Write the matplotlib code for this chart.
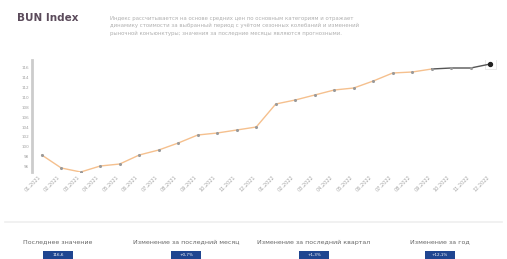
import matplotlib
matplotlib.use("Agg")
import matplotlib.pyplot as plt
from matplotlib.patches import Rectangle
from matplotlib.lines import Line2D

# ---- data ----
months = ["01.2021", "02.2021", "03.2021", "04.2021", "05.2021", "06.2021",
          "07.2021", "08.2021", "09.2021", "10.2021", "11.2021", "12.2021",
          "01.2022", "02.2022", "03.2022", "04.2022", "05.2022", "06.2022",
          "07.2022", "08.2022", "09.2022", "10.2022", "11.2022", "12.2022"]
index_values = [98.4, 95.8, 95.0, 96.2, 96.6, 98.4, 99.4, 100.8, 102.4, 102.8,
                103.4, 104.0, 108.6, 109.4, 110.4, 111.4, 111.8, 113.2, 114.8,
                115.0, 115.6, 115.8, 115.8, 116.6]
n_actual = 21  # first points drawn in orange, rest dark (forecast)
y_ticks = [96, 98, 100, 102, 104, 106, 108, 110, 112, 114, 116]
title = "BUN Index"
description = ("Индекс рассчитывается на основе средних цен по основным категориям и отражает\n"
               "динамику стоимости за выбранный период с учётом сезонных колебаний и изменений\n"
               "рыночной конъюнктуры; значения за последние месяцы являются прогнозными.")
footer_labels = ["Последнее значение", "Изменение за последний месяц",
                 "Изменение за последний квартал", "Изменение за год"]
footer_values = ["116,6", "+0,7%", "+1,3%", "+12,1%"]

fig = plt.figure(figsize=(5.07, 2.59), dpi=100)
fig.patch.set_facecolor("white")

W, H = 507, 259
ax = fig.add_axes([32 / W, 1 - 172 / H, (500 - 32) / W, (172 - 60) / H])
x = list(range(len(months)))
ax.plot(x[:n_actual], index_values[:n_actual], color="#f5c08e", lw=1.0, zorder=2)
ax.plot(x[n_actual - 1:], index_values[n_actual - 1:], color="#555555", lw=1.0, zorder=2)
ax.scatter(x, index_values, s=1.5, color="#9a9a9a", zorder=3)
ax.scatter(x[-1:], index_values[-1:], s=8, color="#222222", zorder=4)
ax.scatter(x[-1:], index_values[-1:], s=60, marker="s", facecolor="none",
           edgecolor="#e6e6e6", linewidth=0.6, zorder=1)

ax.set_xlim(-0.5, len(months) - 0.5)
ax.set_ylim(95, 117.4)
ax.set_yticks(y_ticks)
ax.set_yticklabels([str(v) for v in y_ticks], fontsize=3, color="#a0a0a0")
ax.set_xticks(x)
ax.set_xticklabels(months, rotation=45, ha="right", fontsize=3.6, color="#a5a5a5")
ax.tick_params(axis="both", length=0, pad=2)
for s in ["top", "right", "bottom"]:
    ax.spines[s].set_visible(False)
ax.spines["left"].set_color("#cccccc")
ax.spines["left"].set_linewidth(2)

fig.text(17 / W, 1 - 18 / H, title, fontsize=7.5, fontweight="bold",
         color="#5b4b5b", va="center", ha="left")
fig.text(110 / W, 1 - 26 / H, description, fontsize=3.9, color="#b0b0b0",
         va="center", ha="left", linespacing=1.45)

fig.add_artist(Line2D([5 / W, 502 / W], [1 - 222 / H, 1 - 222 / H],
                      color="#efefef", lw=1.2))

centers = [58, 186, 314, 440]
for cx, lab, val in zip(centers, footer_labels, footer_values):
    fig.text(cx / W, 1 - 242 / H, lab, fontsize=4.5, color="#666666",
             ha="center", va="center")
    fig.add_artist(Rectangle(((cx - 15) / W, 0), 30 / W, 8 / H,
                             facecolor="#1f4590", edgecolor="none",
                             transform=fig.transFigure))
    fig.text(cx / W, 4 / H, val, fontsize=3, color="white", ha="center", va="center")

fig.savefig("out.png", dpi=100, facecolor="white")
